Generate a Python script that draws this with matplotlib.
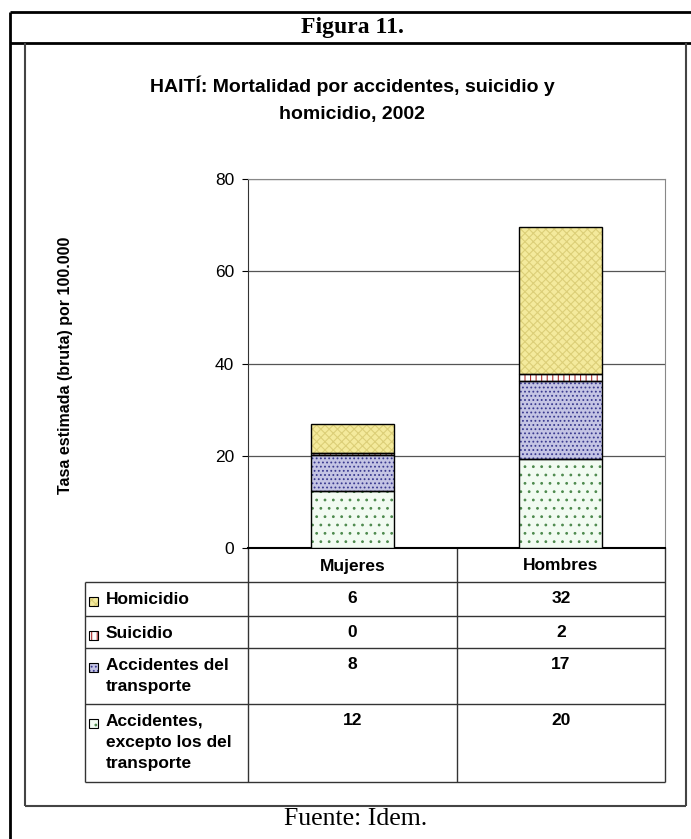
import numpy as np
import matplotlib.pyplot as plt
from matplotlib.patches import Rectangle

plt.rcParams['font.family'] = ['Liberation Sans', 'DejaVu Sans']
plt.rcParams['hatch.linewidth'] = 0.8

# data
groups = ["Mujeres", "Hombres"]
series = ["Accidentes,\nexcepto los del\ntransporte", "Accidentes del\ntransporte",
          "Suicidio", "Homicidio"]
acc_otros = [12.3, 19.3]
acc_transp = [7.9, 17.0]
suicidio = [0.3, 1.4]
homicidio = [6.4, 31.8]
tabla_acc_otros = [12, 20]
tabla_acc_transp = [8, 17]
tabla_suicidio = [0, 2]
tabla_homicidio = [6, 32]
yticks = [0, 20, 40, 60, 80]

values = [acc_otros, acc_transp, suicidio, homicidio]
table_vals = [tabla_acc_otros, tabla_acc_transp, tabla_suicidio, tabla_homicidio]
fills = ['#f2fbf2', '#c4c4e4', '#ffffff', '#f4ea9c']
hatch_cols = ['#4e8a4e', '#3a3a90', '#b03030', '#dccf78']
hatches = ['..', '....', '|||', 'xxxx']

W, H = 691, 839
fig = plt.figure(figsize=(W / 100, H / 100), dpi=100)

# overlay axes in pixel units for frames and the data table
ov = fig.add_axes([0, 0, 1, 1])
ov.set_xlim(0, W)
ov.set_ylim(H, 0)
ov.axis('off')

def line(x0, y0, x1, y1, lw=1.0, c='black'):
    ov.plot([x0, x1], [y0, y1], color=c, lw=lw, solid_capstyle='butt')

# outer frame
line(10, 12, W, 12, lw=2)
line(10, 12, 10, H, lw=2)
line(10, 43, W, 43, lw=2)
# inner chart box
line(25, 43, 25, 806, lw=1.5, c='#444444')
line(25, 806, 686, 806, lw=1.5, c='#444444')
line(686, 43, 686, 806, lw=1.5, c='#444444')

ov.text(352, 27, "Figura 11.", ha='center', va='center', fontsize=17,
        fontweight='bold', family='Liberation Serif')
ov.text(356, 819, "Fuente: Idem.", ha='center', va='center', fontsize=18.5,
        family='Liberation Serif')
ov.text(352, 86, "HAITÍ: Mortalidad por accidentes, suicidio y", ha='center',
        va='center', fontsize=14, fontweight='bold')
ov.text(352, 114, "homicidio, 2002", ha='center', va='center', fontsize=14,
        fontweight='bold')
ov.text(66, 365, "Tasa estimada (bruta) por 100.000", rotation=90, ha='center',
        va='center', fontsize=11.5, fontweight='bold')

# bar chart
x0, x1, ytop, ybot = 248, 665, 179, 548
ax = fig.add_axes([x0 / W, 1 - ybot / H, (x1 - x0) / W, (ybot - ytop) / H])
x = np.arange(len(groups))
bottom = np.zeros(len(groups))
for vals, fc, hc, h in zip(values, fills, hatch_cols, hatches):
    ax.bar(x, vals, 0.4, bottom=bottom, color=fc, lw=0, zorder=3)
    ax.bar(x, vals, 0.4, bottom=bottom, facecolor='none', edgecolor=hc,
           hatch=h, lw=0, zorder=3)
    ax.bar(x, vals, 0.4, bottom=bottom, facecolor='none', edgecolor='black',
           lw=1.0, zorder=4)
    bottom += np.array(vals)
ax.set_xlim(-0.5, 1.5)
ax.set_ylim(0, 80)
ax.set_yticks(yticks)
ax.set_xticks([])
ax.yaxis.grid(True, color='#555555', lw=0.9, zorder=0)
ax.tick_params(axis='y', labelsize=12.5, length=4, pad=6)
for s in ['top', 'right']:
    ax.spines[s].set_color('#888888')
ax.spines['left'].set_color('#333333')
ax.spines['bottom'].set_linewidth(1.5)

# data table below the axis
cols = [85, 248, 457, 665]
rows = [548, 582, 616, 648, 704, 782]
tc = '#333333'
line(248, 548, 248, 782, c=tc)
line(457, 548, 457, 782, c=tc)
line(665, 548, 665, 782, c=tc)
line(85, 582, 85, 782, c=tc)
for r in rows[1:]:
    line(85, r, 665, r, c=tc)
for j, g in enumerate(groups):
    ov.text((cols[j + 1] + cols[j + 2]) / 2, 566, g, ha='center', va='center',
            fontsize=12.5, fontweight='bold')

# table rows go top-down: Homicidio first
order = [3, 2, 1, 0]
for i, k in enumerate(order):
    top = rows[i + 1]
    ov.add_patch(Rectangle((89, top + 15), 9, 9, facecolor=fills[k], lw=0))
    ov.add_patch(Rectangle((89, top + 15), 9, 9, facecolor='none',
                           edgecolor=hatch_cols[k], hatch=hatches[k], lw=0))
    ov.add_patch(Rectangle((89, top + 15), 9, 9, facecolor='none',
                           edgecolor='black', lw=0.8))
    ov.text(106, top + 10, series[k], ha='left', va='top', fontsize=12.5,
            fontweight='bold', linespacing=1.5)
    for j in range(len(groups)):
        ov.text((cols[j + 1] + cols[j + 2]) / 2, top + 9, str(table_vals[k][j]),
                ha='center', va='top', fontsize=12.5, fontweight='bold')

fig.savefig("out.png", dpi=100)
